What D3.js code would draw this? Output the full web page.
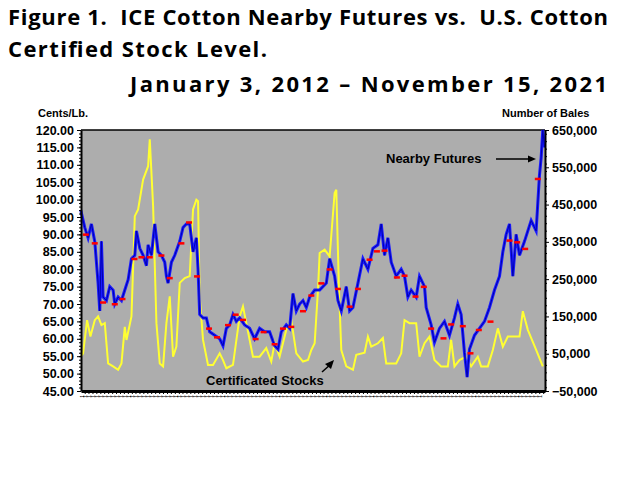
<!DOCTYPE html>
<html><head><meta charset="utf-8">
<script src="https://cdn.jsdelivr.net/npm/d3@7"></script>
<style>body{margin:0;background:#fff}text{font-family:"Liberation Sans",Arial,sans-serif}</style>
</head><body><svg id="c" width="640" height="480"></svg>
<script>
// x positions given as zoom-crop columns converted to decimal years below
const priceZ1 = [[243,97],[255,92],[265,89],[275,93],[285,88],[295,76],[300,68],[305,88],[310,72],[320,71],[330,75],[340,74],[345,70],[355,72],[365,71],[375,74],[385,77],[395,83],[405,84],[410,91],[420,86],[430,84],[440,81],[445,87],[455,84],[465,93],[475,85],[485,84],[495,82],[500,78],[505,76],[515,82],[525,84],[540,88],[550,92],[560,93],[570,93],[580,85],[590,89],[595,80],[600,67],[610,66],[620,66],[630,62],[645,61],[660,60],[670,58],[680,63],[690,64],[700,67],[710,65],[720,66],[735,64],[750,63],[765,60],[780,63],[795,62],[810,62],[825,58],[835,57],[845,62],[860,64],[870,63],[880,73],[890,68],[900,70],[910,71],[920,69],[930,72],[945,74]];
const priceZ2 = [[0,74],[20,76],[30,83],[45,78],[55,71],[65,68],[80,75],[90,68],[100,69],[115,76],[130,83],[145,80],[160,86],[175,87],[185,93],[195,84],[205,89],[215,82],[230,78],[245,80],[255,78],[265,72],[275,74],[290,72],[300,78],[315,75],[320,69],[335,64],[345,59],[360,63],[375,65],[390,61],[405,66],[415,70],[425,67],[435,56],[443,49],[450,57],[465,61],[480,63],[495,65],[510,69],[525,74],[540,78],[550,85],[560,90],[570,93],[580,78],[590,90],[600,84],[615,88],[635,94],[650,91],[660,107],[665,112],[670,120],[675,115]];
const stocksZ1 = [[243,42],[250,51],[262,140],[272,96],[285,140],[295,150],[305,127],[315,132],[325,24],[340,16],[355,7],[365,24],[375,122],[380,87],[395,150],[405,419],[415,437],[430,517],[445,553],[450,625],[460,446],[470,132],[480,24],[490,16],[500,132],[510,204],[520,42],[530,69],[540,240],[555,253],[570,258],[580,437],[590,463],[595,459],[600,204],[610,87],[625,20],[640,20],[660,51],[670,33],[680,11],[700,20],[720,150],[730,177],[740,132],[760,42],[780,42],[800,65],[815,29],[825,78],[840,42],[860,114],[875,140],[890,51],[910,29],[925,33],[935,60],[945,78],[955,222]];
const stocksZ2 = [[0,320],[15,329],[30,311],[45,481],[50,490],[58,222],[65,60],[80,16],[100,7],[110,47],[135,53],[145,96],[155,69],[175,78],[190,92],[200,24],[230,24],[245,51],[255,140],[270,132],[290,132],[300,42],[315,78],[330,96],[345,33],[365,16],[385,16],[395,87],[405,16],[420,33],[440,42],[455,16],[475,42],[485,16],[505,16],[520,60],[535,118],[550,69],[565,96],[600,96],[610,164],[625,114],[650,60],[670,16]];
const redZ1 = [[258,90],[285,87.5],[310,70.5],[345,70],[368,71.5],[404,83],[425,83.5],[450,83.5],[485,84],[510,77.5],[545,87.5],[568,93.5],[592,78],[628,63],[652,60.5],[685,64],[708,67],[730,65.5],[768,60],[792,62],[825,58.5],[850,63],[875,63.5],[910,68],[935,72.5]];
const redZ2 = [[5,76],[30,80],[55,74.4],[90,69.3],[115,74.4],[150,82.8],[172,85.2],[195,85.4],[232,77.7],[255,78.2],[288,72.2],[313,75],[335,63],[372,60.2],[395,64.2],[430,63.7],[453,55.9],[478,62.6],[513,65],[570,88.3],[593,87.8],[617,85.9],[655,106]];
const leftTicks = [45,50,55,60,65,70,75,80,85,90,95,100,105,110,115,120];
const rightTicks = [-50000,50000,150000,250000,350000,450000,550000,650000];

const yr1 = z => 2012 + (z/3 - 81)/47.06;
const yr2 = z => 2012 + (320 + z/3 - 81)/47.06;
const toDate = y => { const Y=Math.floor(y); const s=new Date(Y,0,1), e=new Date(Y+1,0,1); return new Date(+s + (y-Y)*(e-s)); };
const price = priceZ1.map(d=>[toDate(yr1(d[0])),d[1]]).concat(priceZ2.map(d=>[toDate(yr2(d[0])),d[1]]));
const stocks = stocksZ1.map(d=>[toDate(yr1(d[0])),d[1]*1000]).concat(stocksZ2.map(d=>[toDate(yr2(d[0])),d[1]*1000]));
const reds = redZ1.map(d=>[toDate(yr1(d[0])),d[1]]).concat(redZ2.map(d=>[toDate(yr2(d[0])),d[1]]));

const svg = d3.select("#c");
const L=81,R=545,T=130,B=391;
const x = d3.scaleTime().domain([new Date(2012,0,3), new Date(2021,10,15)]).range([L,R]);
const yL = d3.scaleLinear().domain([45,120]).range([B,T]);
const yR = d3.scaleLinear().domain([-50000,650000]).range([B,T]);

const tf = "'Open Sans',sans-serif";
svg.append("text").attr("x",8).attr("y",25).attr("font-size",22).attr("font-weight","bold").style("font-family",tf).style("white-space","pre").attr("textLength",600).attr("lengthAdjust","spacing").text("Figure 1.  ICE Cotton Nearby Futures vs.  U.S. Cotton");
svg.append("text").attr("x",8).attr("y",57).attr("font-size",22).attr("font-weight","bold").style("font-family",tf).attr("textLength",259).attr("lengthAdjust","spacing").text("Certified Stock Level.");
svg.append("text").attr("x",130).attr("y",92).attr("font-size",22).attr("font-weight","bold").style("font-family",tf).attr("textLength",477).attr("lengthAdjust","spacing").text("January 3, 2012 \u2013 November 15, 2021");
svg.append("text").attr("x",38).attr("y",117).attr("font-size",11).attr("font-weight","bold").text("Cents/Lb.");
svg.append("text").attr("x",502).attr("y",117).attr("font-size",11).attr("font-weight","bold").text("Number of Bales");

svg.append("rect").attr("x",L).attr("y",T).attr("width",R-L).attr("height",B-T).attr("fill","#adadad");
svg.append("line").attr("x1",L).attr("x2",R).attr("y1",T).attr("y2",T).attr("stroke","#000").attr("stroke-width",1.5);

const lineS = d3.line().x(d=>x(d[0])).y(d=>yR(d[1]));
svg.append("path").datum(stocks).attr("d",lineS).attr("fill","none").attr("stroke","#ffff33").attr("stroke-width",2);
const lineP = d3.line().x(d=>x(d[0])).y(d=>yL(d[1]));
svg.append("path").datum(price).attr("d",lineP).attr("fill","none").attr("stroke","#1a1aff").attr("stroke-width",3);
svg.append("path").datum(price).attr("d",lineP).attr("fill","none").attr("stroke","#0000b0").attr("stroke-width",1);
svg.selectAll(".r").data(reds).join("rect").attr("x",d=>x(d[0])-3).attr("y",d=>yL(d[1])-1).attr("width",6).attr("height",2.5).attr("fill","#ff0000");

const ax = svg.append("g").attr("transform",`translate(${L},0)`).call(d3.axisLeft(yL).tickValues(leftTicks).tickFormat(d3.format(".2f")).tickSize(4).tickSizeOuter(0));
ax.selectAll("text").attr("font-size",12.5).attr("font-weight","bold").attr("fill","#000");
ax.select(".domain").attr("stroke-width",2);
svg.append("g").attr("transform",`translate(${L},0)`).call(d3.axisLeft(yL).ticks(75).tickFormat("").tickSize(2).tickSizeOuter(0)).select(".domain").remove();
const ar = svg.append("g").attr("transform",`translate(${R},0)`).call(d3.axisRight(yR).tickValues(rightTicks).tickFormat(d3.format(",")).tickSize(4).tickSizeOuter(0));
ar.selectAll("text").attr("font-size",12.5).attr("font-weight","bold").attr("fill","#000");
ar.select(".domain").attr("stroke-width",2);
svg.append("g").attr("transform",`translate(${R},0)`).call(d3.axisRight(yR).ticks(35).tickFormat("").tickSize(2).tickSizeOuter(0)).select(".domain").remove();
const ab = svg.append("g").attr("transform",`translate(0,${B})`).call(d3.axisBottom(x).ticks(d3.timeMonth.every(1)).tickFormat(d3.timeFormat("%-d")).tickSize(3).tickSizeOuter(0));
ab.select(".domain").attr("stroke-width",3);
ab.selectAll("text").attr("font-size",5).attr("transform","rotate(-90)").attr("text-anchor","end").attr("dx","-4").attr("dy","-1.5").attr("x",0).attr("y",0);

svg.append("text").attr("x",386).attr("y",163).attr("font-size",13).attr("font-weight","bold").text("Nearby Futures");
svg.append("line").attr("x1",496).attr("x2",530).attr("y1",159).attr("y2",159).attr("stroke","#000").attr("stroke-width",1.5);
svg.append("path").attr("d","M536,159 L528,155.5 L528,162.5 Z");
svg.append("text").attr("x",206).attr("y",385).attr("font-size",13).attr("font-weight","bold").text("Certificated Stocks");
svg.append("line").attr("x1",322).attr("x2",331).attr("y1",372).attr("y2",364).attr("stroke","#000").attr("stroke-width",1.5);
svg.append("path").attr("d","M334,360 L325,364 L331,369 Z");
</script></body></html>
